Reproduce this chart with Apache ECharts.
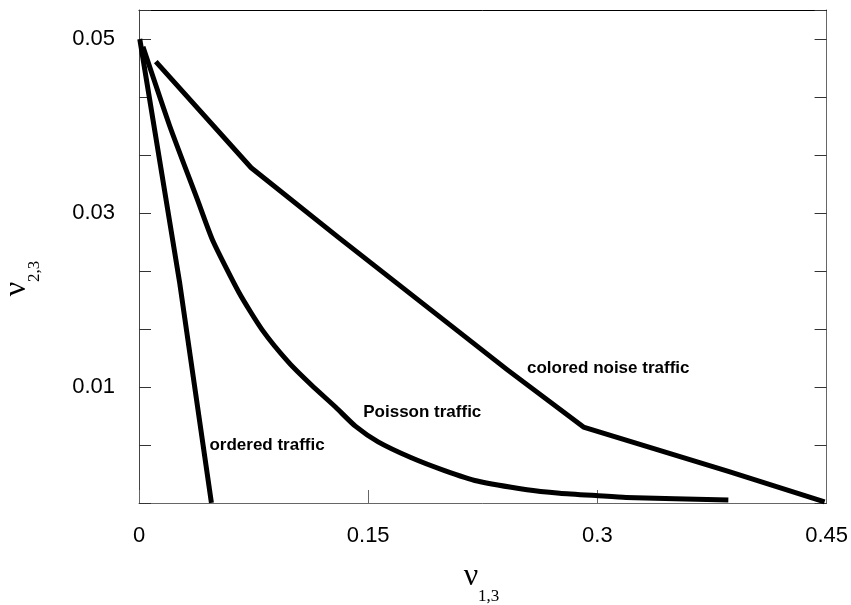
<!DOCTYPE html>
<html>
<head>
<meta charset="utf-8">
<script src="https://cdn.jsdelivr.net/npm/echarts@6/dist/echarts.min.js"></script>
<style>
  html, body { margin: 0; padding: 0; background: #fff; }
  #chart { width: 851px; height: 605px; }
</style>
</head>
<body>
<div id="chart"></div>
<script>
// Boundary curves in the (nu_13, nu_23) plane for three traffic types
const orderedTraffic = [
  [0.0005, 0.0500], [0.0266, 0.0220], [0.0474, -0.00333]
];
const poissonTraffic = [
  [0.0026, 0.0491], [0.0201, 0.0400], [0.0383, 0.0315], [0.0481, 0.0269],
  [0.0656, 0.0208], [0.0805, 0.0166], [0.0981, 0.0128], [0.1130, 0.0102],
  [0.1286, 0.0077], [0.1416, 0.0055], [0.1565, 0.0037], [0.1779, 0.0019],
  [0.2000, 0.0004], [0.2214, -0.0008], [0.2539, -0.0018], [0.2753, -0.0022],
  [0.3006, -0.0025], [0.3188, -0.0027], [0.3857, -0.0030]
];
const coloredNoiseTraffic = [
  [0.0110, 0.0474], [0.0734, 0.0352], [0.1305, 0.0272], [0.2409, 0.0120],
  [0.2909, 0.0054], [0.3857, 0.0003], [0.4487, -0.0032]
];

// Curve captions and where they sit (data coordinates)
const captionNames = ['ordered traffic', 'Poisson traffic', 'colored noise traffic'];
const captionAt = [[0.0838, 0.00325], [0.1854, 0.00705], [0.3071, 0.0122]];

// Axis ticks and labels
const xTickValues = [0, 0.15, 0.3, 0.45];
const xTickLabels = ['0', '0.15', '0.3', '0.45'];
const yTickValues = [0.01, 0.03, 0.05];
const yTickLabels = ['0.01', '0.03', '0.05'];
const yMin = -0.01 / 3;
const yMax = 0.16 / 3;
const yStep = 0.02 / 3;

function pickLabel(values, labels, v) {
  for (let i = 0; i < values.length; i++) {
    if (Math.abs(values[i] - v) < 1e-6) return labels[i];
  }
  return '';
}

const chart = echarts.init(document.getElementById('chart'), null, { renderer: 'canvas' });

const lineStyle = { color: '#000', width: 5, cap: 'butt', join: 'round' };

function curve(name, data, smooth, caption, at) {
  return {
    type: 'line',
    name: name,
    data: data,
    showSymbol: false,
    smooth: smooth,
    lineStyle: lineStyle,
    clip: true,
    silent: true,
    markPoint: {
      symbol: 'circle',
      symbolSize: 0,
      silent: true,
      label: {
        show: true,
        position: 'inside',
        formatter: caption,
        color: '#000',
        fontFamily: '"Liberation Sans", Arial, sans-serif',
        fontWeight: 'bold',
        fontSize: 17
      },
      data: [{ coord: at }]
    }
  };
}

const option = {
  animation: false,
  backgroundColor: '#fff',
  grid: { left: 139, right: 18, top: 10, bottom: 102, containLabel: false },
  xAxis: [
    {
      type: 'value', position: 'bottom', min: 0, max: 0.45, interval: 0.15,
      axisLine: { show: true, onZero: false, lineStyle: { color: '#666', width: 1 } },
      axisTick: { show: true, inside: true, length: 13, lineStyle: { color: '#666' } },
      splitLine: { show: false },
      axisLabel: {
        margin: 22, color: '#000', fontSize: 22,
        fontFamily: '"Liberation Sans", Arial, sans-serif',
        formatter: v => pickLabel(xTickValues, xTickLabels, v)
      }
    },
    {
      type: 'value', position: 'top', min: 0, max: 0.45,
      axisLine: { show: true, onZero: false, lineStyle: { color: '#000', width: 1 } },
      axisTick: { show: false }, axisLabel: { show: false }, splitLine: { show: false }
    }
  ],
  yAxis: [
    {
      type: 'value', position: 'left', min: yMin, max: yMax, interval: yStep,
      axisLine: { show: true, onZero: false, lineStyle: { color: '#444', width: 1 } },
      axisTick: { show: true, inside: true, length: 12, lineStyle: { color: '#333' } },
      splitLine: { show: false },
      axisLabel: {
        margin: 24, color: '#000', fontSize: 22,
        fontFamily: '"Liberation Sans", Arial, sans-serif',
        formatter: v => pickLabel(yTickValues, yTickLabels, v)
      }
    },
    {
      type: 'value', position: 'right', min: yMin, max: yMax, interval: yStep,
      axisLine: { show: true, onZero: false, lineStyle: { color: '#666', width: 1 } },
      axisTick: { show: true, inside: true, length: 12, lineStyle: { color: '#333' } },
      axisLabel: { show: false }, splitLine: { show: false }
    }
  ],
  graphic: [
    // horizontal axis title: nu with subscript 1,3
    {
      type: 'text', x: 471, y: 577,
      style: { text: 'ν', font: '32px "Liberation Serif", serif', fill: '#000',
               textAlign: 'center', textVerticalAlign: 'middle', align: 'center', verticalAlign: 'middle' }
    },
    {
      type: 'text', x: 478, y: 597,
      style: { text: '1,3', font: '17px "Liberation Serif", serif', fill: '#000',
               textAlign: 'left', textVerticalAlign: 'middle', align: 'left', verticalAlign: 'middle' }
    },
    // vertical axis title: nu with subscript 2,3, reading upward
    {
      type: 'text', x: 17, y: 289, rotation: Math.PI / 2,
      style: { text: 'ν', font: '32px "Liberation Serif", serif', fill: '#000',
               textAlign: 'center', textVerticalAlign: 'middle', align: 'center', verticalAlign: 'middle' }
    },
    {
      type: 'text', x: 35, y: 282, rotation: Math.PI / 2,
      style: { text: '2,3', font: '17px "Liberation Serif", serif', fill: '#000',
               textAlign: 'left', textVerticalAlign: 'middle', align: 'left', verticalAlign: 'middle' }
    }
  ],
  series: [
    curve('ordered', orderedTraffic, false, captionNames[0], captionAt[0]),
    curve('Poisson', poissonTraffic, 0.2, captionNames[1], captionAt[1]),
    curve('colored noise', coloredNoiseTraffic, false, captionNames[2], captionAt[2])
  ]
};

chart.setOption(option);
</script>
</body>
</html>
